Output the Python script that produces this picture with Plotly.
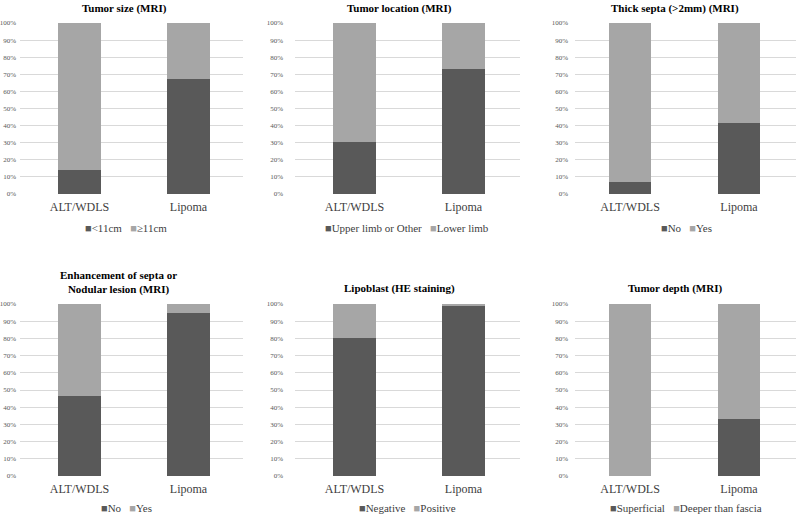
import plotly.graph_objects as go

categories = ["ALT/WDLS", "Lipoma"]

titles = [
    "Tumor size (MRI)",
    "Tumor location (MRI)",
    "Thick septa (>2mm) (MRI)",
    "Enhancement of septa or<br>Nodular lesion (MRI)",
    "Lipoblast (HE staining)",
    "Tumor depth (MRI)",
]
series_names = [
    ("<11cm", "≥11cm"),
    ("Upper limb or Other", "Lower limb"),
    ("No", "Yes"),
    ("No", "Yes"),
    ("Negative", "Positive"),
    ("Superficial", "Deeper than fascia"),
]
size_lt11 = [14.0, 67.4]
size_ge11 = [86.0, 32.6]
loc_upper = [30.3, 73.0]
loc_lower = [69.7, 27.0]
septa_no = [6.8, 41.3]
septa_yes = [93.2, 58.7]
enh_no = [46.4, 95.0]
enh_yes = [53.6, 5.0]
lipo_neg = [80.3, 98.8]
lipo_pos = [19.7, 1.2]
depth_sup = [0.0, 33.3]
depth_deep = [100.0, 66.7]

panel_values = [
    (size_lt11, size_ge11),
    (loc_upper, loc_lower),
    (septa_no, septa_yes),
    (enh_no, enh_yes),
    (lipo_neg, lipo_pos),
    (depth_sup, depth_deep),
]
y_ticks = [0, 10, 20, 30, 40, 50, 60, 70, 80, 90, 100]
y_tick_labels = [f"{v}%" for v in y_ticks]

DARK = "#595959"
LIGHT = "#A6A6A6"
FONT = "Liberation Serif, Times New Roman, serif"
W, H = 796, 517

# pixel layout of plot areas (left, right, top, bottom)
boxes = [
    (20, 243, 23, 194),
    (295, 520, 23, 194),
    (575, 796, 23, 194),
    (20, 243, 304, 476),
    (295, 520, 304, 476),
    (575, 796, 304, 476),
]
x_ranges = [(-0.546, 1.5), (-0.546, 1.518), (-0.505, 1.523)] * 2
y_standoff = [3, 11, 6] * 2
title_pos = [(124, 8), (399, 8), (675, 8), (118, 282), (400, 288), (675, 288)]
legend_y = [228, 228, 228, 508, 508, 508]
legend_x = [126, 407, 686, 126, 407, 686]

fig = go.Figure()
layout = dict(
    width=W, height=H, margin=dict(l=0, r=0, t=0, b=0, autoexpand=False),
    paper_bgcolor="white", plot_bgcolor="white",
    barmode="stack", bargap=0.61, showlegend=False,
    font=dict(family=FONT, color="#404040"),
)
annotations = []
for i, (vals, names, box) in enumerate(zip(panel_values, series_names, boxes)):
    n = i + 1
    xa = "x" if n == 1 else f"x{n}"
    ya = "y" if n == 1 else f"y{n}"
    for v, nm, col in zip(vals, names, (DARK, LIGHT)):
        fig.add_trace(go.Bar(x=categories, y=v, name=nm, marker=dict(color=col, line=dict(width=0)),
                             xaxis=xa, yaxis=ya))
    l, r, t, b = box
    xkey = "xaxis" if n == 1 else f"xaxis{n}"
    ykey = "yaxis" if n == 1 else f"yaxis{n}"
    layout[xkey] = dict(domain=[l / W, min(r / W, 1.0)], anchor=ya, showgrid=False, zeroline=False,
                        showline=False, ticks="", ticklabelstandoff=4, automargin=False,
                        range=list(x_ranges[i]),
                        tickfont=dict(family=FONT, size=12, color="#404040"))
    layout[ykey] = dict(domain=[1 - b / H, 1 - t / H], anchor=xa, range=[0, 100],
                        tickvals=y_ticks, ticktext=y_tick_labels, showgrid=True,
                        gridcolor="#D9D9D9", gridwidth=1, zeroline=False, showline=False,
                        ticks="", ticklabelstandoff=y_standoff[i], automargin=False,
                        tickfont=dict(family=FONT, size=7, color="#595959"))
    tx, ty = title_pos[i]
    annotations.append(dict(text=f"<b>{titles[i]}</b>", x=tx / W, y=1 - ty / H, xref="paper", yref="paper",
                            xanchor="center", yanchor="middle", showarrow=False,
                            font=dict(family=FONT, size=11, color="#000000")))
    lab = (f"<span style='color:{DARK}'>■</span>{names[0].replace('<', '&lt;')}"
           f"   <span style='color:{LIGHT}'>■</span>{names[1]}")
    annotations.append(dict(text=lab, x=legend_x[i] / W, y=1 - legend_y[i] / H, xref="paper", yref="paper",
                            xanchor="center", yanchor="middle", showarrow=False,
                            font=dict(family=FONT, size=11, color="#404040")))
layout["annotations"] = annotations
fig.update_layout(**layout)
fig.write_html("out.html", config={"displayModeBar": False, "staticPlot": True},
               post_script="document.body.style.margin='0';document.body.style.overflow='hidden';")
